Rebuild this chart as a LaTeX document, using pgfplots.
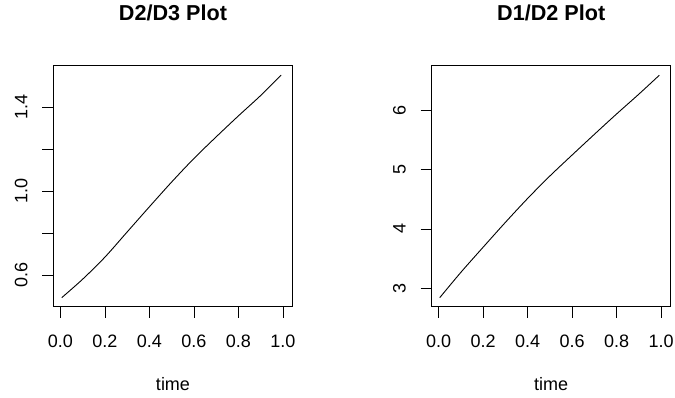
\documentclass[border=0pt]{standalone}
\usepackage{pgfplots}
\pgfplotsset{compat=1.18}
\usepackage{pgfplotstable}
\usepackage{fontspec}
\setmainfont{Liberation Sans}

\pgfplotstableread{
x y
0.006 0.492
0.100 0.580
0.200 0.685
0.300 0.805
0.400 0.925
0.500 1.043
0.600 1.155
0.700 1.258
0.800 1.358
0.900 1.455
0.992 1.552
}\dtwodthree

\pgfplotstableread{
x y
0.005 2.836
0.100 3.265
0.200 3.690
0.300 4.110
0.400 4.515
0.500 4.895
0.600 5.250
0.700 5.600
0.800 5.945
0.900 6.280
0.992 6.600
}\donedtwo

\begin{document}
\begin{tikzpicture}
\useasboundingbox (0pt,0pt) rectangle (675pt,398pt);
\pgfplotsset{
  rstyle/.style={
    scale only axis, width=239pt, height=241pt,
    anchor=south west,
    axis line style={line width=0.8pt, black},
    tick align=outside, major tick length=11pt,
    xtick pos=lower, ytick pos=left,
    tick style={black, line width=0.8pt},
    xtick={0,0.2,0.4,0.6,0.8,1.0},
    xticklabels={0.0,0.2,0.4,0.6,0.8,1.0},
    ticklabel style={font=\fontsize{18}{21}\selectfont},
    /pgf/number format/assume math mode=true,
    xmin=-0.031, xmax=1.043,
    xticklabel style={anchor=base, inner sep=0pt, yshift=-30.3pt},
    yticklabel style={xshift=-15pt, rotate=90, anchor=base, inner sep=0pt},
    xlabel={time},
    xlabel style={font=\fontsize{18}{21}\selectfont, at={(axis description cs:0.5,0)}, anchor=base, yshift=-84.3pt, inner sep=0pt},
    title style={font=\bfseries\fontsize{21.6}{25}\selectfont, at={(axis description cs:0.5,1)}, anchor=base, yshift=39pt, inner sep=0pt},
  }
}
\begin{axis}[rstyle, at={(53.5pt,91.3pt)},
  title={D2/D3 Plot},
  ymin=0.449, ymax=1.597,
  ytick={0.6,0.8,1.0,1.2,1.4},
  yticklabels={0.6,,1.0,,1.4}]
\addplot[black, line width=0.9pt, no marks, smooth] table[x=x,y=y] {\dtwodthree};
\end{axis}
\begin{axis}[rstyle, at={(431.7pt,91.3pt)},
  title={D1/D2 Plot},
  ymin=2.684, ymax=6.761,
  ytick={3,4,5,6},
  yticklabels={3,4,5,6}]
\addplot[black, line width=0.9pt, no marks, smooth] table[x=x,y=y] {\donedtwo};
\end{axis}
\end{tikzpicture}
\end{document}
